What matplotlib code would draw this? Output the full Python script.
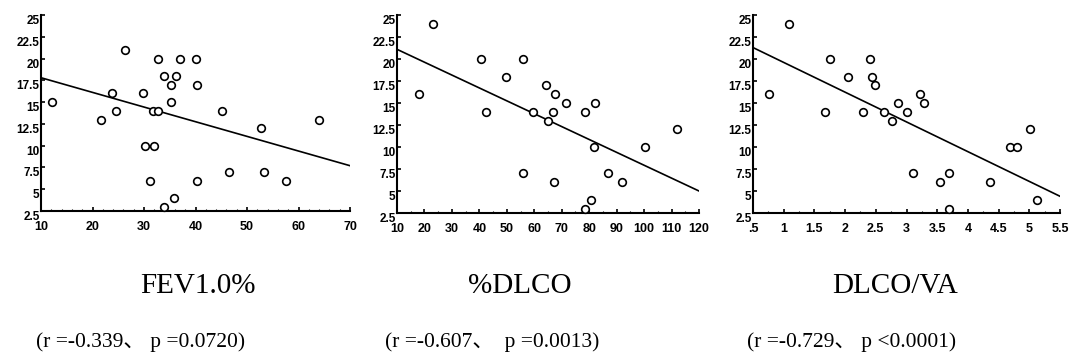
import matplotlib
matplotlib.use('Agg')
from matplotlib import pyplot as plt
from matplotlib.ticker import MultipleLocator

# FEV1.0% panel
fev_x = [12.2, 21.6, 23.7, 24.6, 26.4, 29.8, 30.2, 31.9, 31.2, 31.7, 32.7,
         32.7, 33.8, 33.8, 35.3, 35.2, 35.8, 36.3, 36.9, 40.1, 40.3, 40.3,
         45.2, 46.6, 52.8, 53.3, 57.5, 64.0]
fev_y = [15, 13, 16, 14, 21, 16, 10, 10, 6, 14, 14,
         20, 18, 3, 17, 15, 4, 18, 20, 20, 17, 6,
         14, 7, 12, 7, 6, 13]
fev_fit = [17.8, 7.7]

# %DLCO panel
dlco_x = [17.9, 23.1, 40.5, 42.5, 49.7, 56.0, 56.0, 59.7, 64.3, 64.9, 66.9,
          67.5, 67.3, 71.7, 78.3, 78.6, 80.5, 81.8, 82.3, 86.9, 91.8, 100.5,
          112.1]
dlco_y = [16, 24, 20, 14, 18, 20, 7, 14, 17, 13, 14,
          16, 6, 15, 14, 3, 4, 10, 15, 7, 6, 10,
          12]
dlco_fit = [21.1, 5.0]

# DLCO/VA panel
va_x = [0.76, 1.08, 1.68, 1.76, 2.05, 2.29, 2.41, 2.44, 2.49, 2.64, 2.76,
        2.86, 3.00, 3.10, 3.22, 3.29, 3.55, 3.69, 3.69, 4.36, 4.68, 4.80,
        5.01, 5.13]
va_y = [16, 24, 14, 20, 18, 14, 20, 18, 17, 14, 13,
        15, 14, 7, 16, 15, 6, 7, 3, 6, 10, 10,
        12, 4]
va_fit = [21.3, 4.4]

y_ticks = [2.5, 5, 7.5, 10, 12.5, 15, 17.5, 20, 22.5, 25]
y_labels = ['2.5', '5', '7.5', '10', '12.5', '15', '17.5', '20', '22.5', '25']

titles = ['FEV1.0%', '%DLCO', 'DLCO/VA']
stats = ['(r =-0.339、 p =0.0720)', '(r =-0.607、  p =0.0013)',
         '(r =-0.729、 p <0.0001)']

panels = [
    (fev_x, fev_y, fev_fit, (10, 70), list(range(10, 71, 10)),
     [str(v) for v in range(10, 71, 10)], 2),
    (dlco_x, dlco_y, dlco_fit, (10, 120), list(range(10, 121, 10)),
     [str(v) for v in range(10, 121, 10)], 5),
    (va_x, va_y, va_fit, (0.5, 5.5), [0.5 + 0.5 * i for i in range(11)],
     ['.5', '1', '1.5', '2', '2.5', '3', '3.5', '4', '4.5', '5', '5.5'], 0.25),
]

fig = plt.figure(figsize=(10.79, 3.62), dpi=100)

boxes = [(41, 309, 211), (397, 302, 213), (753, 307, 213)]
title_x = [198, 520, 895]
stat_x = [141, 492, 852]

for i, (xs, ys, fit, xlim, xt, xl, minor) in enumerate(panels):
    left, width, bottom = boxes[i]
    ax = fig.add_axes([left / 1079, (362 - bottom) / 362,
                       width / 1079, (bottom - 15) / 362])
    ax.plot(xs, ys, 'o', markerfacecolor='white', markeredgecolor='black',
            markersize=5.5, markeredgewidth=1.2, clip_on=False, zorder=3)
    ax.plot(xlim, fit, color='black', linewidth=1.2)
    ax.set_xlim(xlim)
    ax.set_ylim(2.5, 25)
    ax.set_xticks(xt)
    ax.set_xticklabels(xl)
    ax.set_yticks(y_ticks)
    ax.set_yticklabels(y_labels)
    ax.xaxis.set_minor_locator(MultipleLocator(minor))
    for s in ['top', 'right']:
        ax.spines[s].set_visible(False)
    for s in ['left', 'bottom']:
        ax.spines[s].set_linewidth(1.5)
    ax.tick_params(axis='both', which='major', direction='in', length=3,
                   width=1.2, labelsize=8.5)
    ax.tick_params(axis='x', which='minor', direction='in', length=1.5,
                   width=0.8)
    ax.tick_params(axis='x', which='major', pad=7)
    ax.tick_params(axis='y', pad=1)
    for lab in ax.get_yticklabels():
        lab.set_verticalalignment('top')
        lab.set_fontweight('bold')
        lab.set_family('Liberation Sans')
    for lab in ax.get_xticklabels():
        lab.set_fontweight('bold')
        lab.set_family('Liberation Sans')
        lab.set_fontsize(9)

    fig.text(title_x[i] / 1079, 1 - 286 / 362, titles[i], ha='center',
             va='center', fontsize=21, family='Liberation Serif')
    fig.text(stat_x[i] / 1079, 1 - 342 / 362, stats[i], ha='center',
             va='center', fontsize=15.5,
             family=['Liberation Serif', 'Noto Sans CJK SC'])

fig.savefig('out.png', dpi=100)
